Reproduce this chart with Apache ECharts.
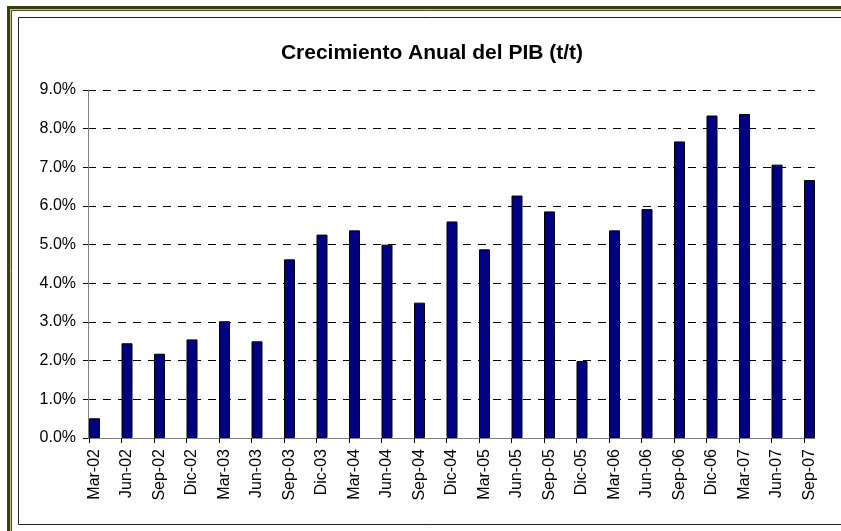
<!DOCTYPE html>
<html>
<head>
<meta charset="utf-8">
<title>Crecimiento Anual del PIB (t/t)</title>
<script src="https://cdn.jsdelivr.net/npm/echarts@6/dist/echarts.min.js"></script>
<style>
  html, body { margin: 0; padding: 0; background: #fff; }
  #chart { width: 841px; height: 531px; }
</style>
</head>
<body>
<div id="chart"></div>
<script type="text/javascript">
// datos
var trimestres = ['Mar-02', 'Jun-02', 'Sep-02', 'Dic-02', 'Mar-03', 'Jun-03', 'Sep-03', 'Dic-03',
    'Mar-04', 'Jun-04', 'Sep-04', 'Dic-04', 'Mar-05', 'Jun-05', 'Sep-05', 'Dic-05',
    'Mar-06', 'Jun-06', 'Sep-06', 'Dic-06', 'Mar-07', 'Jun-07', 'Sep-07'];
var crecimiento = [0.51, 2.45, 2.18, 2.55, 3.02, 2.50, 4.62, 5.26,
    5.37, 5.00, 3.50, 5.60, 4.88, 6.27, 5.86, 1.99,
    5.37, 5.92, 7.67, 8.34, 8.38, 7.07, 6.67];
var ejeY = { min: 0, max: 9, interval: 1 };

var fuente = 'Arial, "Liberation Sans", sans-serif';
var chart = echarts.init(document.getElementById('chart'));

var option = {
    backgroundColor: '#fff',
    animation: false,
    title: {
        text: 'Crecimiento Anual del PIB (t/t)',
        left: 427,
        top: 38,
        textAlign: 'center',
        textStyle: { fontFamily: fuente, fontSize: 21, fontWeight: 'bold', color: '#000' }
    },
    graphic: [
        // marco exterior
        { type: 'rect', shape: { x: 8.5, y: 7.5, width: 900, height: 600 },
          style: { fill: 'none', stroke: '#3b3b12', lineWidth: 3 }, silent: true },
        { type: 'rect', shape: { x: 10.5, y: 9.5, width: 900, height: 600 },
          style: { fill: 'none', stroke: '#c9c98f', lineWidth: 1 }, silent: true },
        { type: 'rect', shape: { x: 11.5, y: 10.5, width: 900, height: 600 },
          style: { fill: 'none', stroke: '#4a4a1c', lineWidth: 1 }, silent: true },
        // borde del area del grafico
        { type: 'rect', shape: { x: 18.5, y: 17.5, width: 900, height: 507 },
          style: { fill: 'none', stroke: '#222', lineWidth: 1 }, silent: true }
    ],
    grid: [
        { left: 88, right: 26, top: 90, bottom: 93 },   // marco y eje Y
        { left: 89, right: 37, top: 90, bottom: 93 },   // marcas del eje X
        { left: 94.5, right: 31.5, top: 90, bottom: 93 } // barras
    ],
    xAxis: [
        {
            gridIndex: 0, type: 'value', min: 0, max: 1,
            axisLine: { show: true, lineStyle: { color: '#808080', width: 1 } },
            axisTick: { show: false }, axisLabel: { show: false }, splitLine: { show: false }
        },
        {
            gridIndex: 1, type: 'category', boundaryGap: false, data: trimestres,
            axisLine: { show: false },
            axisTick: { show: true, length: 5, interval: 0, lineStyle: { color: '#000' } },
            axisLabel: { show: false }, splitLine: { show: false }
        },
        {
            gridIndex: 2, type: 'category', boundaryGap: false, data: trimestres,
            axisLine: { show: false }, axisTick: { show: false }, splitLine: { show: false },
            axisLabel: {
                interval: 0, rotate: 90, margin: 11,
                fontFamily: fuente, fontSize: 16, color: '#000'
            }
        }
    ],
    yAxis: [
        {
            gridIndex: 0, type: 'value', min: ejeY.min, max: ejeY.max, interval: ejeY.interval,
            axisLine: { show: true, lineStyle: { color: '#808080', width: 1 } },
            axisTick: { show: true, length: 5, lineStyle: { color: '#000' } },
            axisLabel: {
                margin: 12, fontFamily: fuente, fontSize: 16, color: '#000',
                formatter: function (v) { return v.toFixed(1) + '%'; }
            },
            splitLine: { show: true, lineStyle: { color: '#000', width: 1, type: [8, 7] } }
        },
        { gridIndex: 1, type: 'value', min: ejeY.min, max: ejeY.max, show: false },
        { gridIndex: 2, type: 'value', min: ejeY.min, max: ejeY.max, show: false }
    ],
    series: [{
        name: 'Crecimiento',
        type: 'bar',
        xAxisIndex: 2,
        yAxisIndex: 2,
        data: crecimiento,
        barWidth: 11,
        clip: false,
        itemStyle: { color: '#000080', borderColor: '#000', borderWidth: 1 }
    }]
};
chart.setOption(option);
</script>
</body>
</html>
